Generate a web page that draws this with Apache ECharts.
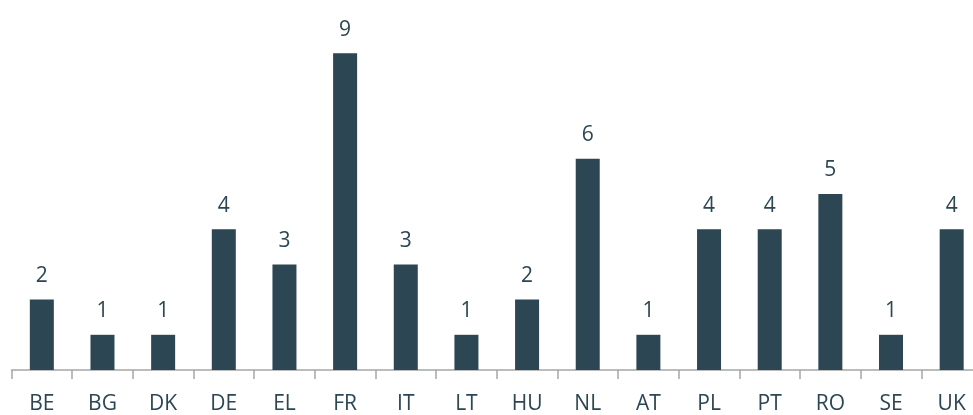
<!DOCTYPE html>
<html>
<head>
<meta charset="utf-8">
<script src="https://cdn.jsdelivr.net/npm/echarts@6/dist/echarts.min.js"></script>
<style>
  html, body { margin: 0; padding: 0; background: #ffffff; overflow: hidden; }
  /* canvas is a bit wider than the page so the last category band runs off the edge */
  #chart { width: 983px; height: 415px; }
</style>
</head>
<body>
<div id="chart"></div>
<script>
// Member states and their counts
const countries = ['BE', 'BG', 'DK', 'DE', 'EL', 'FR', 'IT', 'LT', 'HU', 'NL', 'AT', 'PL', 'PT', 'RO', 'SE', 'UK'];
const counts = [2, 1, 1, 4, 3, 9, 3, 1, 2, 6, 1, 4, 4, 5, 1, 4];

const barColor = '#2C4653';
const textColor = '#2C4653';
const fontFamily = '"Open Sans", "Liberation Sans", sans-serif';

const chart = echarts.init(document.getElementById('chart'), null, { renderer: 'canvas' });
chart.setOption({
  animation: false,
  grid: { left: 11.5, right: 1, top: 18, bottom: 44, containLabel: false },
  xAxis: {
    type: 'category',
    data: countries,
    axisLine: { show: true, lineStyle: { color: '#A6A6A6', width: 1.5 } },
    axisTick: { show: true, length: 9, lineStyle: { color: '#A6A6A6', width: 1.5 } },
    axisLabel: { color: textColor, fontFamily: fontFamily, fontSize: 21, margin: 24 }
  },
  yAxis: {
    type: 'value',
    min: 0,
    max: 10,
    show: false,
    splitLine: { show: false }
  },
  series: [{
    type: 'bar',
    data: counts,
    barWidth: 24,
    itemStyle: { color: barColor },
    label: {
      show: true,
      position: 'top',
      distance: 13,
      color: textColor,
      fontFamily: fontFamily,
      fontSize: 21
    }
  }]
});
</script>
</body>
</html>
